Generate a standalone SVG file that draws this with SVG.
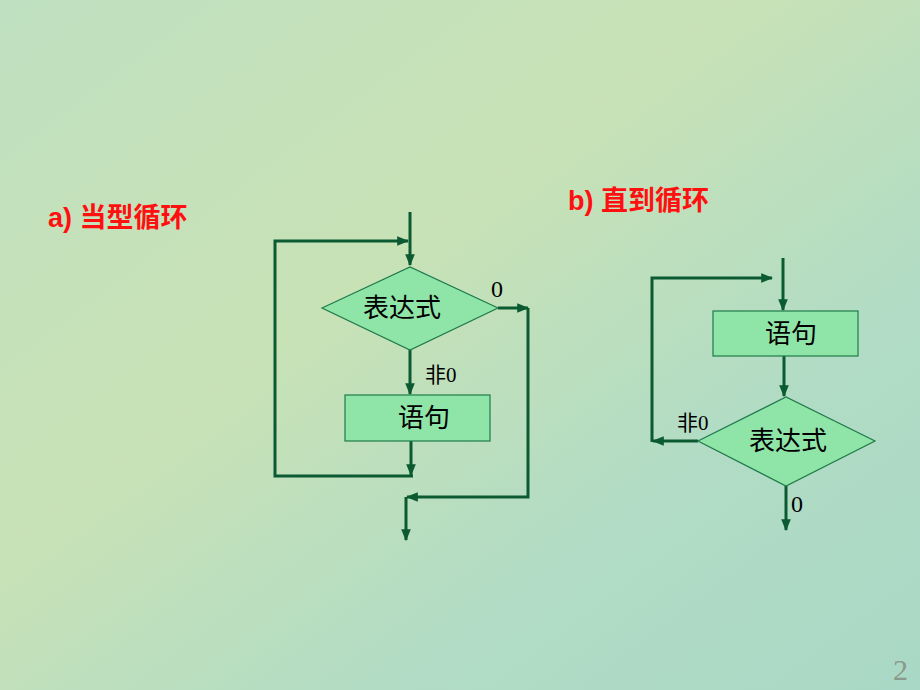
<svg xmlns="http://www.w3.org/2000/svg" width="920" height="690" viewBox="0 0 920 690">
<style>
.ln{stroke:#0b5a32;stroke-width:3;fill:none}
.nd{fill:#8fe5a8;stroke:#1f7a4a;stroke-width:1.2}
.tx{font-family:"Liberation Serif","Noto Sans CJK SC",serif;fill:#000}
.tt{font-family:"Liberation Sans","Noto Sans CJK SC",sans-serif;font-weight:bold;fill:#ff1010;font-size:27px}
</style>
<defs>
<marker id="ah" viewBox="0 0 10 10" refX="9" refY="5" markerWidth="4" markerHeight="4" orient="auto" markerUnits="strokeWidth"><path d="M0,1 L10,5 L0,9 z" fill="#0b5a32"/></marker>
<linearGradient id="bg" x1="0" y1="0" x2="1" y2="1">
<stop offset="0" stop-color="#bfe0c0"/><stop offset="0.4" stop-color="#c8e2b6"/><stop offset="0.7" stop-color="#b2dcc4"/><stop offset="1" stop-color="#a9d8c6"/>
</linearGradient>
</defs>
<rect width="920" height="690" fill="url(#bg)"/>
<text class="tt" x="48" y="227">a) 当型循环</text>
<text class="tt" x="568" y="210">b) 直到循环</text>
<g id="connectors">
<line class="ln" x1="410" y1="212" x2="410" y2="265" marker-end="url(#ah)"/>
<polyline class="ln" points="413,476 275,476 275,241 408,241" marker-end="url(#ah)"/>
<line class="ln" x1="410" y1="350" x2="410" y2="394" marker-end="url(#ah)"/>
<line class="ln" x1="411" y1="441" x2="411" y2="475" marker-end="url(#ah)"/>
<line class="ln" x1="498" y1="308" x2="528" y2="308" marker-end="url(#ah)"/>
<polyline class="ln" points="528,308 528,497 407,497" marker-end="url(#ah)"/>
<line class="ln" x1="406" y1="497" x2="406" y2="540" marker-end="url(#ah)"/>
<line class="ln" x1="783" y1="258" x2="783" y2="310" marker-end="url(#ah)"/>
<line class="ln" x1="698" y1="441" x2="653" y2="441" marker-end="url(#ah)"/>
<polyline class="ln" points="652,442 652,278 772,278" marker-end="url(#ah)"/>
<line class="ln" x1="784" y1="356" x2="784" y2="396" marker-end="url(#ah)"/>
<line class="ln" x1="786" y1="486" x2="786" y2="530" marker-end="url(#ah)"/>
</g>
<g id="a-cond"><polygon class="nd" points="322,308 410,267 498,308 410,350"/><text class="tx" x="402" y="317" font-size="26" text-anchor="middle">表达式</text></g>
<g id="a-stmt"><rect class="nd" x="345" y="395" width="145" height="46"/><text class="tx" x="424" y="427" font-size="26" text-anchor="middle">语句</text></g>
<g id="b-stmt"><rect class="nd" x="713" y="311" width="145" height="45"/><text class="tx" x="791" y="343" font-size="26" text-anchor="middle">语句</text></g>
<g id="b-cond"><polygon class="nd" points="698,441 786,397 875,441 786,486"/><text class="tx" x="788" y="450" font-size="26" text-anchor="middle">表达式</text></g>
<text class="tx" x="491" y="297" font-size="24">0</text>
<text class="tx" x="425" y="382" font-size="21">非0</text>
<text class="tx" x="677" y="430" font-size="21">非0</text>
<text class="tx" x="791" y="512" font-size="24">0</text>
<text x="893" y="680" font-family="Liberation Serif,serif" font-size="30" fill="#8a9a8a">2</text>
</svg>
